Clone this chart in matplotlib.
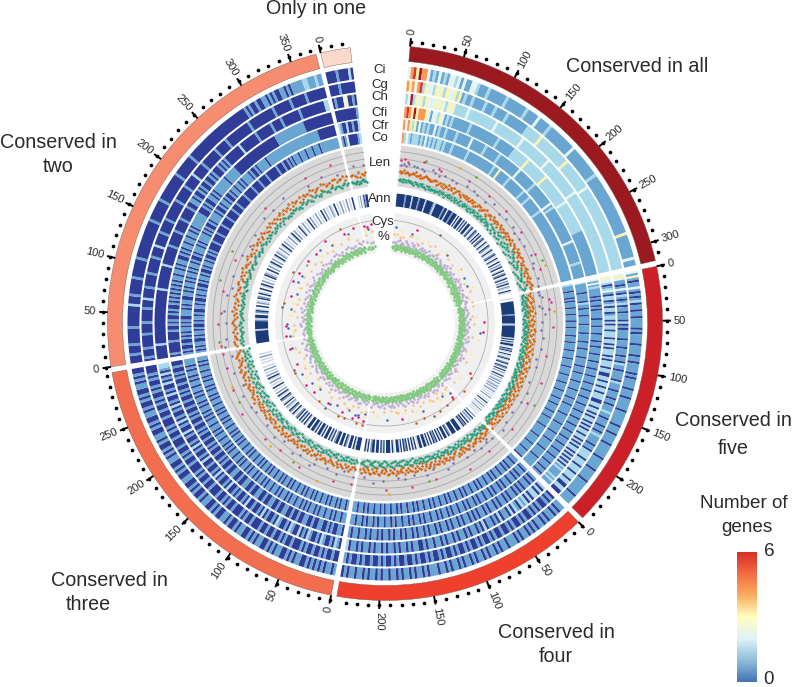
import numpy as np
import matplotlib
matplotlib.use('Agg')
import matplotlib.pyplot as plt
from itertools import groupby
from matplotlib.colors import LinearSegmentedColormap

plt.rcParams['font.family'] = ['Liberation Sans', 'DejaVu Sans']

# sector order: all, five, four, three, two, one
SECTOR_GENES = [317, 249, 239, 302, 374, 27]
SECTOR_TICKS = [300, 250, 200, 250, 350, 20]
SECTOR_COLORS = ['#9b1a1f', '#cb2027', '#ef3f2d', '#f36d4f', '#f68d71', '#fcd9cc']

# heat tracks, one digit per block of genes (number of genes in that species)
HEAT_CI = [
    '3564755312131213323131133211121111112111111121111311112111111111131111111111121111111111111111111111411111111311',
    '31410113101012011011011110101111011110110111101011110111011111011111101110111101111110111110111110111111101111',
    '1101011010110101011010111011010110101101011010110101101110101101011010110110101101011011010',
    '10110101010100110101001101010011010100110100101100101001101001010011001010011010100101100101001101001010011010100',
    '0001000100000010000000020001000000100000001000000000000000100000000100000000000100000000100000000000000000000000000001010010011010100110101111122111211',
    '00001000020',
]
HEAT_CG = [
    '5453562433243424334241211211112111211112111111112222224222222222222422222222222322222222222222222222222222222222',
    '34311013102101201101110201011110111011101102110111102111011101101112110111011012111101102222022202220222022002200',
    '0101001010100101001010010010100101001010010100101001010010100100101001010010010100101',
    '00100101001001010001001010010010010001001010001001010010001001001010001001010010001001010001001001010010100101000',
    '0100010000010000100000100020000100000100000010000200000100000100000000100000010000020000010000000100000100000000000100000000000100000001000000100000000',
    '00001000000',
]
HEAT_CH = [
    '2372434243334343243422222322222222222322222222222322222222222232222222222222223222222222222222222222222222222222',
    '43320123102201202201220202202220220202220202220220022022022022200220220202202020220220202022020202020212111121211',
    '2020220202120120201102010110201011010110101101011011010011010110101101011010110101102',
    '01201001201001201020012010012010010201001002010010100201001020100100201001020100102001020100102010020100201020122',
    '0000002000000000000000000000000200000000002000000001000000100000100000100110100101001001010001010100000000200000000100000001000010000000010000000000022',
    '01000340010',
]
HEAT_CFI = [
    '5654745554313324312121111111211111111111121111111222222242222222224222222222222322222222222221111111111111111111',
    '31312111101011010111101110111011101101110111011101110111011101110111011101110111011101110111011101110111011101101',
    '1010110101011010110101101011010101101011010110101101011010110101101011010110101101101',
    '01100101001100100110010010011001001100100110010011001001100100101001001010010010100100101001001001010010010100100',
    '0100000100001001010010100101010101010110110101100101011011011010111111100010100110101111111011111100000000000000000000000011111111111111100000000000000',
    '00000000001',
]
HEAT_CFR = [
    '5354241312121131211211112111111311111121111112111111111131111111121111111111312111111111111111131111111112111111',
    '31111101111021101110111101111011110111011110111101110111101111011110111011111011111011111011110111110111110111111',
    '1011010110110101101011011010110101101101011010110110101101011011010110110101101011011',
    '11011010110110101101010110110101101011011010110101101011010110110101011011010110110101011010110101101101011010111',
    '1010010010101101010011101011001101011010110101101001011101011110101001011110100101101001011011010111101001011111011111111111111111111111111111000000000',
    '21002001002',
]
HEAT_CO = [
    '5232122212131212122121112111111121111111111111211411111211111111211121111111211111111111111111111111111111111111',
    '21110111010111011101110111011110111011110111101111011110111101111011110111011110111011111011111101111101111011110',
    '1101101011011010110110101101101011011010110110101101101011011010110110101101101011011',
    '10110101101011011010110101101101011010110110101101011011010110110101101011011010110101101101011010110101101101011',
    '1010110010110100101101001101001011010010110100101101001010000100001000010000100001000100000100000100001000010000001000100101011101110111011101111111111',
    '10130000012',
]

# annotation track: 0 none, 1 pale, 2 mid, 3 dark
ANN = [
    '33333323333133332333313333321333333233133323330313303130330230132031302310310320131023103103021301302301302130210310',
    '01003333333333323333333123333333333130313310323103102310230132030201302012020120201201010200103010201020101',
    '20312030323103330333023033031303230303133033103130303230313301303330313033033203130',
    '33313033023033033203130330313303133033013031303201302301203102301302010301020130201020100101020100000',
    '33333333133333213302310302103203103013020103210302013020130210201302010201302010310201030201020103020102103010201020103',
    '001020132330',
]

# Len track: one character per gene, base 36, measured outward from the track floor
LEN_GREEN = [
    '7868576867564756465745364635453546354524536453642534625364535253645364536453746354827361548263749152638475162938476152837465192837465518293746',
    '4352635241536241536342513624153426135243614352641536241536243152634152634152314253162435162534261534251635241362514326153425163241536',
    '6475364826375463728463547362846375463728463547362846375463627384635274635182746351827364518273645281736452817364528173645',
    '5364736253647382635473625364738263547362536473826354736253647382635473625736481527364815273648152736481527361485273614852736481',
    '7869786578697856786976857869786587697856789678657896785679867586978568796857986758697867589678659786579867589678657968',
    '87657846589765',
]
LEN_ORANGE = [
    'gefhegfdegfhdefcdegfdeccdfeacdbeadcfbdceabdecbadcebdacebdabcedabcdfbacedbfcdbecafdbeacdfbeadcfbaedcbfadecbdfaecbdaefcbdaecfbdaefcd',
    'b9a7c8d9a6b8c9a7d8b6a9c7b8a6c9d7b8a6c8d9b7a8c6b9d7a8b6c9a7d8b9c7a8d7b9c6a8d9b7c8a6d9b7c8a9d6b8c7a9d8b6c7a8d9c6b8a7d',
    'a8bcd9aebcf9abdce8bafdc9ebaecf9abdfc8ebdafc9bedacf9bdeacf8bdcaebf9dcaebf8dacebf9dcaefb9dacfe8bdcafeb9dcafb',
    'cabdfbcaedbfcaedbacfdbceafbdceacfbdeacbfdaecbdfacebdfcaebdfcaebdcfbeadcfbeadcgbeafdcbeafdcgbeafdcbgeafdcbeagfdcb',
    'defcdebfdcegfdbecgdfbecdgfbedcfgbdecfbgdecbfgdecfbgdecfbdgecbfdgecfdbegcfdebgcfdebgcfdebgfcdebgfcdebfgcdegbf',
    'efdcgbedf',
]
LEN_PURPLE = [
    'mnlo.nm.lk..nl.k.m..l.k...n..m.l...k..o...l..m...n.k..l..m...o..n.l...m..k',
    'jkm..il.n..k..j..m...l...i..k.....j...l...k....i...j..m..',
    '.k.hj..l..i...k.....j..m.....h..l....i...k..j.....l...n...i..',
    'k..h.m..j...lo...k.n...i..m...j....k.l...n..i...m....k.',
    'p.n...m..o...n.k..m.....l..i..k....n..m...o......k...m...j..',
    '.n..m',
]
LEN_PINK = [
    'rsq....t....qp........s.......r......s.......q.......s....r.....',
    '...tu.s.....v.........r........u.......q.........s....',
    '....s.......w..........r.......t.......u.........',
    'r....t.........v......s....u........w......t.....r...s',
    't...u.r...s.....q..........t........s....u..',
    '.....',
]
LEN_LIME = ['..u....z.........w..', '...........x....', '........r.......', '.....u......t....', 'u...y.w.........', '...']
LEN_GOLD = ['.......z...............x..', '.w.........', '.........y..', '..z...v....t..', '.....', '...']

# % track: same encoding
PCT_GREEN = [
    '6758496758596847685794865768496758695748695847695748696857486958476859685748695748695746859675849675968475968374968574968357496857496835749687356',
    '74869584769587469584768596748596475869475869748596475869745869475869475869475869475869477586948576958476958746958475869',
    '58697485967485697485964758697485967485964758697485697485964785967485697485964785965876947586974859685749685746958746958',
    '68574968576948576849576948576849576948576948576849576948576948576849576948576948576849576948576758496758496758496758496857496758496857',
    '75869475869475869748596475869748596475869475869748596475869475869475869748596475869475869748596475866857496857946857496857496875496857496857496875498',
    '685768',
]
PCT_PURPLE = [
    'bcadebcafdbaecdbfacebdacebadcfbdaecbadcebfadcebacdbeafcdbeacdbfadec',
    'cbdaecbfadcbeacdbaecfdbacedbacfdebadcbefadcbeadc',
    'debcafdebacfdebcadfbecadbfecadbfcedabfcedabcf',
    'bdcaefbdacebdfacdbeafcdbeadcfbaedcbfaedcbfadecbfad',
    'cdbaefcbdaecfbdaecbfdaecbdfaecbdafecbdaefcbdaefcbdaecf',
    'dbc',
]
PCT_SAND = [
    'jk.hi..kl..g.i...j.m..h....k..j...n..g..i...l..h.k',
    'k...h..j....i.....g...k....h...l..',
    'ij.k.hl.mj..i.k..hm..j..lk.i..j....k.',
    'l.m.i.j.n.k..i..m.j...l..h...k..m...i..l.n...',
    'n.k.l..i.m..k.j...l.h.n..k..m.i...l.j...k..m..i..',
    'k.n',
]
PCT_YELLOW = [
    '..o....l..m.....n.....k.....o....',
    '...k.....p...l......n...',
    '..n.p..l....o...m..k.....n..',
    'q...n.k...o....m...p..l....n..',
    '.m...p..o...n.....q...m...o...p...',
    'o.m',
]
PCT_BLUE = [
    'r...n.........m......l.k....',
    '...q.......',
    'p.n.....q........r....',
    'n.qr.o...p.s....n..p...r.......q..',
    'q.rs...p...n..q.p..r....s..o....q...',
    '.q.',
]
PCT_PINK = [
    '...s..............',
    '...t.s.......t....',
    'u........r.....',
    'usv.t..s..t.u...r..s.',
    'u.t.....s..v.u..t.r..w...s.u.',
    'tsu',
]
PCT_BROWN = [
    '...',
    '.....wy',
    'wxy.xz.....',
    'zy.xy...w.....x.....',
    '....x...z.......y..',
    '.',
]
PCT_GREY = ['.y..', '..', '.z...', '...y...x..', '.y.....', '.']

LABELS = ['Ci', 'Cg', 'Ch', 'Cfi', 'Cfr', 'Co', 'Len', 'Ann', 'Cys', '%']

# layout in reference pixels, one radial unit = one pixel
W, H = 792, 687
CX, CY, RMAX = 385, 323, 300
START = [5.2, 78.2, 135.8, 191.2, 260.9, 346.6]
END = [77.0, 134.6, 190.0, 259.7, 345.6, 352.8]
HEAT_BANDS = [(HEAT_CI, 245.5, 257.5), (HEAT_CG, 232.5, 243.5), (HEAT_CH, 219.5, 230.5),
              (HEAT_CFI, 206, 217.5), (HEAT_CFR, 193.5, 204.5), (HEAT_CO, 180.5, 191.5)]
HEAT_COLORS = ['#2f3c98', '#6aa6d2', '#a8d9ea', '#e4f4f3', '#fbf3a6', '#f79a58', '#d8382a', '#a01b28']
ANN_COLORS = ['#ffffff', '#c8d5e6', '#7c99c2', '#1c3b79']
TEXT_COLOR = '#2a2a2a'

fig = plt.figure(figsize=(W / 100, H / 100), dpi=100)
ax = fig.add_axes([(CX - RMAX) / W, 1 - (CY + RMAX) / H, 2 * RMAX / W, 2 * RMAX / H], projection='polar')
ax.set_theta_zero_location('N')
ax.set_theta_direction(-1)
ax.set_rlim(0, RMAX)
ax.axis('off')


def band(i, r0, r1, color, **kw):
    t0, t1 = np.radians(START[i]), np.radians(END[i])
    ax.bar((t0 + t1) / 2, r1 - r0, width=t1 - t0, bottom=r0, color=color, **kw)


def strip(text, i, r0, r1, colors):
    # merge equal neighbours so long runs stay one smooth arc
    edges = np.radians(np.linspace(START[i], END[i], len(text) + 1))
    pos = 0
    for val, run in groupby(text):
        n = len(list(run))
        if colors[int(val)] != '#ffffff':
            ax.bar((edges[pos] + edges[pos + n]) / 2, r1 - r0, width=edges[pos + n] - edges[pos], bottom=r0,
                   color=colors[int(val)], linewidth=0)
        pos += n


def points(strings, r0, color, size=3.2):
    for i, text in enumerate(strings):
        pos = [(k + 0.5) / len(text) for k, c in enumerate(text) if c != '.']
        rad = [r0 + int(c, 36) for c in text if c != '.']
        th = np.radians(START[i] + np.array(pos) * (END[i] - START[i]))
        ax.scatter(th, rad, s=size, color=color, linewidths=0, zorder=4)


for i in range(6):
    band(i, 262.5, 277.5, SECTOR_COLORS[i], edgecolor='#6f5a55', linewidth=0.3)
    band(i, 137, 178, '#d9d9d9')
    band(i, 70, 110, '#f0f0f0')
    for r in [144, 151, 158, 165, 172]:
        ax.plot(np.radians(np.linspace(START[i], END[i], 40)), [r] * 40, color='#a8a8a8', lw=0.6)
    ax.plot(np.radians(np.linspace(START[i], END[i], 40)), [103] * 40, color='#b0b0b0', lw=0.6)

    for strings, r0, r1 in HEAT_BANDS:
        strip(strings[i], i, r0, r1, HEAT_COLORS)
    strip(ANN[i], i, 117, 130, ANN_COLORS)

    # ruler round the outside, a dot every 10 genes and a labelled tick every 50
    step = (END[i] - START[i]) / SECTOR_GENES[i]
    for unit in range(0, SECTOR_GENES[i] + 1, 10):
        th = START[i] + unit * step
        ax.scatter(np.radians(th), 282.5, s=7, color='black', linewidths=0, zorder=5, clip_on=False)
        if unit % 50 == 0 and unit <= SECTOR_TICKS[i]:
            ax.plot(np.radians([th, th]), [278.5, 285], color='black', lw=1.4, clip_on=False)
            if i == 5 and unit > 0:
                continue
            flip = th > 185
            rot = 90 - th + (180 if flip else 0)
            ax.text(np.radians(th), 289, str(unit), rotation=rot, rotation_mode='anchor', fontsize=8,
                    ha='right' if flip else 'left', va='center', color=TEXT_COLOR)

points(LEN_LIME, 137, '#66a61e')
points(LEN_GOLD, 137, '#e6ab02')
points(LEN_PINK, 137, '#e7298a')
points(LEN_PURPLE, 137, '#7570b3')
points(LEN_GREEN, 137, '#1b9e77')
points(LEN_ORANGE, 137, '#d95f02')

points(PCT_GREY, 70, '#666666')
points(PCT_BROWN, 70, '#bf5b17')
points(PCT_PINK, 70, '#f0027f')
points(PCT_BLUE, 70, '#386cb0')
points(PCT_YELLOW, 70, '#fdeb8c')
points(PCT_SAND, 70, '#fdc086')
points(PCT_PURPLE, 70, '#beaed4', 3.8)
points(PCT_GREEN, 70, '#7fc97f', 3.8)


def label(x, y, text, size):
    fig.text(x / W, 1 - y / H, text, fontsize=size, ha='center', va='center', color=TEXT_COLOR)


label(316, 8, 'Only in one', 14.2)
label(637, 66, 'Conserved in all', 14.2)
label(733, 421, 'Conserved in', 14.2)
label(733, 448, 'five', 14.2)
label(556, 633, 'Conserved in', 14.2)
label(556, 657, 'four', 14.2)
label(109, 580, 'Conserved in', 14.2)
label(88, 605, 'three', 14.2)
label(58, 143, 'Conserved in', 14.2)
label(58, 167, 'two', 14.2)

for name, yy in zip(LABELS, [70, 85, 97, 113, 126, 138, 163, 199, 222, 237]):
    label(380 if name not in ('Cys', '%') else 383, yy, name, 9.5)

# colour key
cax = fig.add_axes([737 / W, 1 - 682 / H, 20 / W, 130 / H])
key = LinearSegmentedColormap.from_list('key', ['#4575b4', '#91bfdb', '#e0f3f8', '#ffffbf', '#fdae61', '#f46d43', '#d73027'])
cax.imshow(np.linspace(1, 0, 200).reshape(-1, 1), aspect='auto', cmap=key)
cax.axis('off')
label(744, 503, 'Number of', 13.6)
label(747, 527, 'genes', 13.6)
label(769, 552, '6', 13.6)
label(769, 680, '0', 13.6)

fig.savefig('out.png', dpi=100)
